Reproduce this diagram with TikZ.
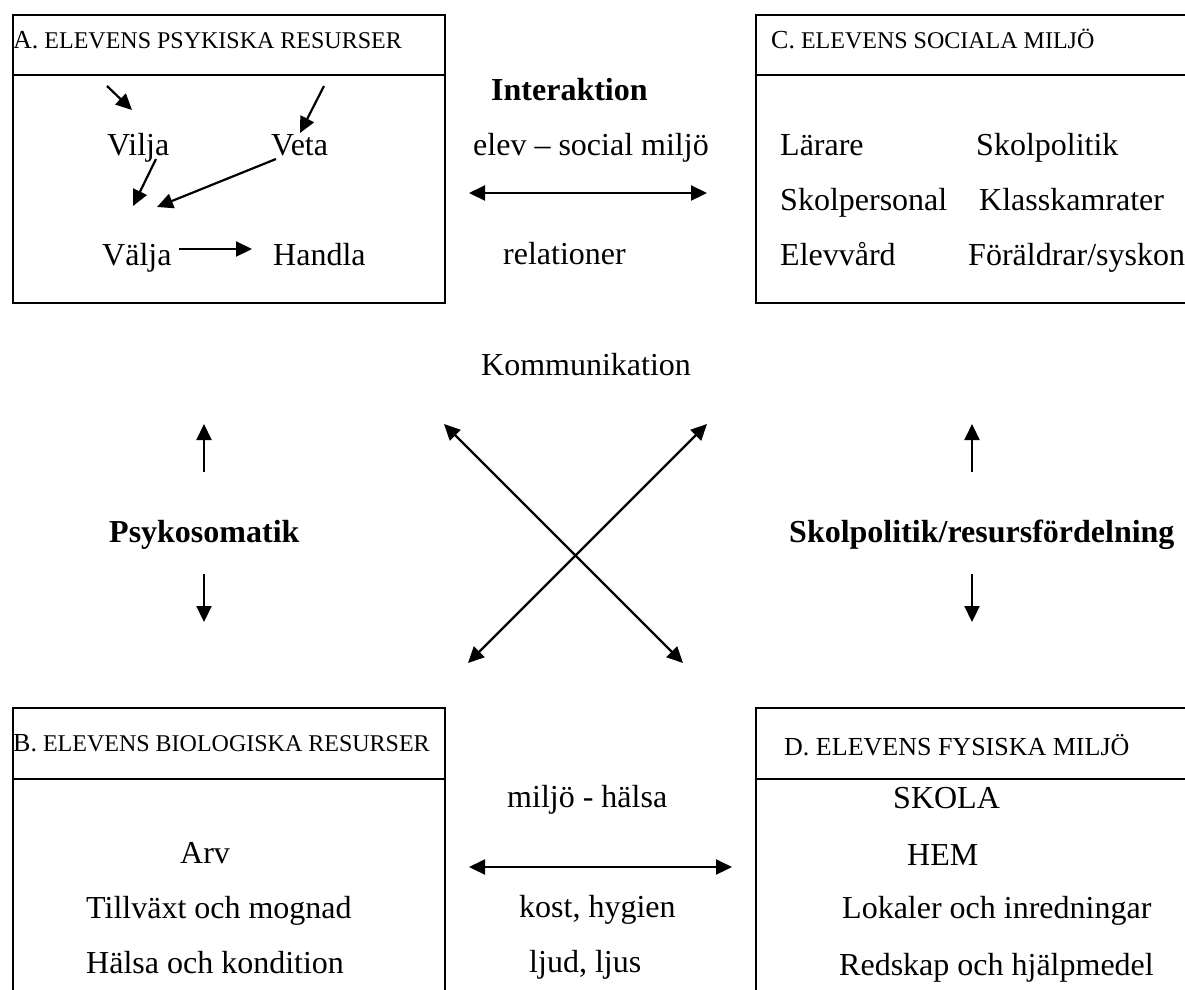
\documentclass[tikz,border=0pt]{standalone}
\usepackage{fontspec}
\setmainfont{Liberation Serif}
\usetikzlibrary{arrows.meta}
\newcommand\hdrinit[1]{{\fontsize{26}{30}\selectfont #1}}
\begin{document}
\begin{tikzpicture}[x=1pt,y=-1pt,
  box/.style={draw,line width=2.2pt,inner sep=0pt,anchor=north west},
  sep/.style={line width=2.2pt},
  txt/.style={anchor=base west,inner sep=0pt,font=\fontsize{32}{38}\selectfont},
  btxt/.style={anchor=base west,inner sep=0pt,font=\fontsize{32}{38}\selectfont\bfseries},
  hdr/.style={anchor=base west,inner sep=0pt,font=\fontsize{24}{28}\selectfont},
  hdrD/.style={anchor=base west,inner sep=0pt,font=\fontsize{26}{30}\selectfont},
  tip/.tip={Triangle[length=16pt,width=15pt]},
  arr/.style={line width=2.2pt,-tip},
  darr/.style={line width=2.2pt,tip-tip}]
\useasboundingbox (0,0) rectangle (1185,989);
\clip (0,0) rectangle (1185,989);

% boxes
\node[box,minimum width=432pt,minimum height=288pt] (A) at (12,14) {};
\node[box,minimum width=445pt,minimum height=288pt] (C) at (755,14) {};
\node[box,minimum width=432pt,minimum height=300pt] (B) at (12,707) {};
\node[box,minimum width=445pt,minimum height=300pt] (D) at (755,707) {};
\draw[sep] (12,75) -- (444,75);
\draw[sep] (755,75) -- (1200,75);
\draw[sep] (12,779) -- (444,779);
\draw[sep] (755,779) -- (1200,779);

% headers
\node[hdr] (hA) at (13,48) {\hdrinit{A.} ELEVENS PSYKISKA RESURSER};
\node[hdr] (hC) at (771,48) {\hdrinit{C.} ELEVENS SOCIALA MILJÖ};
\node[hdr] (hB) at (13,751) {\hdrinit{B.} ELEVENS BIOLOGISKA RESURSER};
\node[hdrD] (hD) at (784,755) {D. ELEVENS FYSISKA MILJÖ};

% box A contents
\node[txt] (vilja) at (107,155) {Vilja};
\node[txt] (veta) at (271,155) {Veta};
\node[txt] (valja) at (102,265) {Välja};
\node[txt] (handla) at (273,265) {Handla};
\coordinate (a1s) at (107,86);  \coordinate (a1e) at (132,110);
\coordinate (a2s) at (324,86);  \coordinate (a2e) at (300,133);
\coordinate (a3s) at (156,159); \coordinate (a3e) at (133,206);
\coordinate (a4s) at (276,159); \coordinate (a4e) at (157,207);
\coordinate (a5s) at (179,249); \coordinate (a5e) at (252,249);
\draw[arr] (a1s) -- (a1e);
\draw[arr] (a2s) -- (a2e);
\draw[arr] (a3s) -- (a3e);
\draw[arr] (a4s) -- (a4e);
\draw[arr] (a5s) -- (a5e);

% top middle
\node[btxt] (inter) at (491,100) {Interaktion};
\node[txt] (elev) at (473,155) {elev – social miljö};
\coordinate (t1) at (469,193); \coordinate (t2) at (707,193);
\draw[darr] (t1) -- (t2);
\node[txt] (rel) at (503,264) {relationer};

% box C contents
\node[txt] (lar) at (780,155) {Lärare};
\node[txt] (skp) at (976,155) {Skolpolitik};
\node[txt] (skpers) at (780,210) {Skolpersonal};
\node[txt] (klass) at (979,210) {Klasskamrater};
\node[txt] (elevv) at (780,265) {Elevvård};
\node[txt] (foral) at (968,265) {Föräldrar/syskon};

% middle
\node[txt] (komm) at (481,375) {Kommunikation};
\node[btxt] (psy) at (109,542) {Psykosomatik};
\node[btxt] (skres) at (789,542) {Skolpolitik/resursfördelning};
\coordinate (lu1) at (204,472); \coordinate (lu2) at (204,424);
\coordinate (ld1) at (204,574); \coordinate (ld2) at (204,622);
\coordinate (ru1) at (972,472); \coordinate (ru2) at (972,424);
\coordinate (rd1) at (972,574); \coordinate (rd2) at (972,622);
\draw[arr] (lu1) -- (lu2);
\draw[arr] (ld1) -- (ld2);
\draw[arr] (ru1) -- (ru2);
\draw[arr] (rd1) -- (rd2);
\coordinate (x1) at (444,424); \coordinate (x2) at (683,663);
\coordinate (x3) at (707,424); \coordinate (x4) at (468,663);
\draw[darr] (x1) -- (x2);
\draw[darr] (x3) -- (x4);

% bottom middle
\node[txt] (mh) at (507,807) {miljö - hälsa};
\coordinate (b1) at (469,867); \coordinate (b2) at (732,867);
\draw[darr] (b1) -- (b2);
\node[txt] (kost) at (519,917) {kost, hygien};
\node[txt] (ljud) at (529,972) {ljud, ljus};

% box B contents
\node[txt] (arv) at (180,863) {Arv};
\node[txt] (till) at (86,918) {Tillväxt och mognad};
\node[txt] (hals) at (86,973) {Hälsa och kondition};

% box D contents
\node[txt] (skola) at (893,808) {SKOLA};
\node[txt] (hem) at (907,865) {HEM};
\node[txt] (lok) at (842,918) {Lokaler och inredningar};
\node[txt] (red) at (839,975) {Redskap och hjälpmedel};
\end{tikzpicture}
\end{document}
